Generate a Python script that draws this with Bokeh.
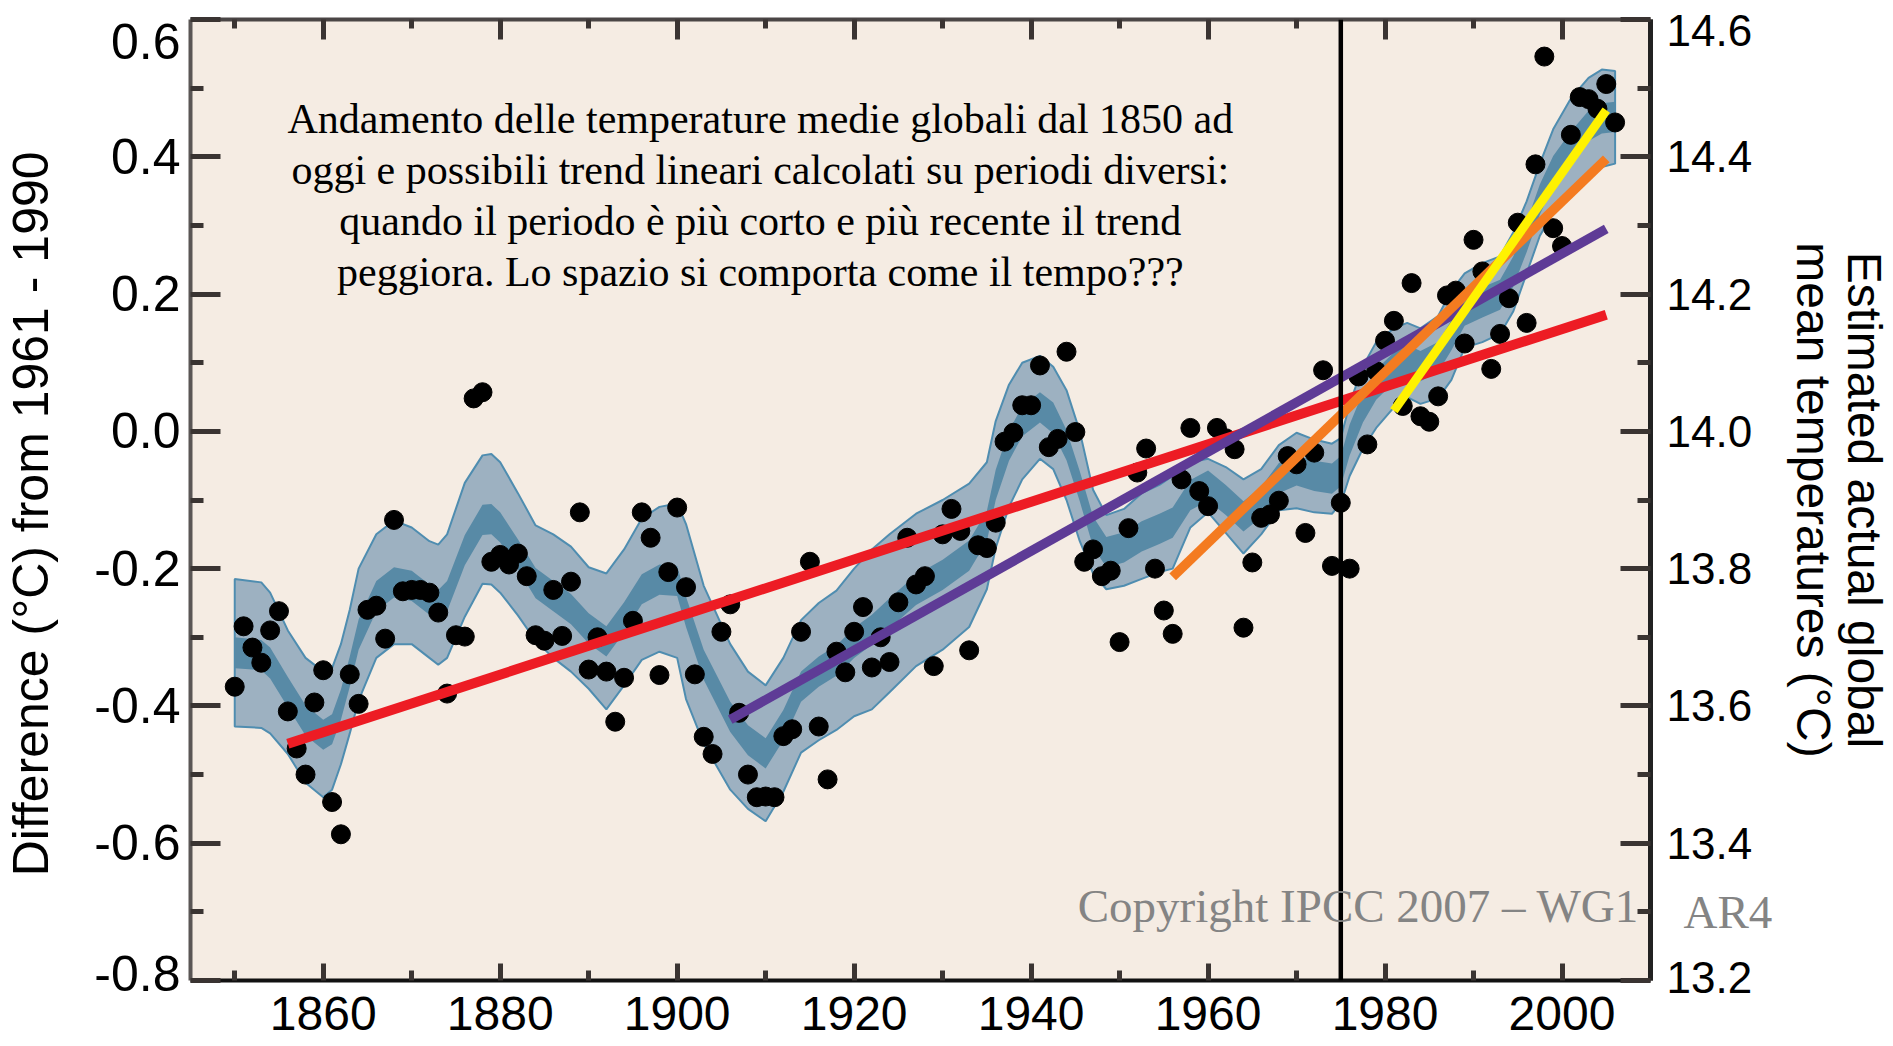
import math
from bokeh.plotting import figure
from bokeh.models import (Range1d, LinearAxis, Span, Label, FixedTicker,
                          PrintfTickFormatter)
from bokeh.embed import file_html
from bokeh.resources import INLINE

# ---------------- data ----------------
years = list(range(1850, 2007))
anomaly = [
    -0.372, -0.284, -0.315, -0.337, -0.290, -0.262, -0.408, -0.462, -0.500, -0.395,
    -0.348, -0.540, -0.587, -0.354, -0.397, -0.260, -0.254, -0.302, -0.129, -0.233,
    -0.231, -0.231, -0.235, -0.264, -0.382, -0.297, -0.299, 0.048, 0.057, -0.190,
    -0.180, -0.194, -0.178, -0.211, -0.297, -0.305, -0.231, -0.298, -0.219, -0.118,
    -0.347, -0.300, -0.350, -0.423, -0.359, -0.276, -0.118, -0.155, -0.355, -0.205,
    -0.111, -0.227, -0.354, -0.445, -0.470, -0.292, -0.252, -0.410, -0.500, -0.533,
    -0.532, -0.533, -0.444, -0.434, -0.292, -0.190, -0.430, -0.507, -0.321, -0.351,
    -0.292, -0.256, -0.344, -0.300, -0.336, -0.249, -0.155, -0.223, -0.211, -0.342,
    -0.150, -0.113, -0.145, -0.319, -0.166, -0.170, -0.133, -0.015, -0.002, 0.038,
    0.038, 0.096, -0.023, -0.011, 0.116, -0.001, -0.190, -0.172, -0.211, -0.203,
    -0.307, -0.141, -0.060, -0.025, -0.200, -0.261, -0.295, -0.070, 0.005, -0.087,
    -0.109, 0.005, -0.010, -0.026, -0.286, -0.191, -0.126, -0.121, -0.101, -0.036,
    -0.048, -0.148, -0.031, 0.089, -0.196, -0.104, -0.200, 0.080, -0.019, 0.088,
    0.132, 0.161, 0.037, 0.216, 0.022, 0.014, 0.051, 0.198, 0.205, 0.128,
    0.279, 0.233, 0.091, 0.142, 0.194, 0.304, 0.158, 0.389, 0.546, 0.296,
    0.270, 0.432, 0.487, 0.484, 0.470, 0.506, 0.450,
]

band_year = [1850, 1853, 1854, 1856, 1858, 1860, 1861, 1862, 1863, 1864, 1866, 1868,
             1870, 1872, 1873, 1874, 1876, 1878, 1879, 1880, 1882, 1884, 1886, 1888,
             1890, 1892, 1894, 1896, 1898, 1900, 1901, 1903, 1906, 1908, 1910, 1912,
             1914, 1916, 1918, 1920, 1922, 1924, 1927, 1930, 1933, 1935, 1936, 1937.5,
             1939, 1941, 1942.5, 1944, 1945.5, 1947, 1948.5, 1950.5, 1952.5, 1954.5,
             1956, 1958, 1960, 1962, 1964, 1966, 1968, 1970, 1972, 1974, 1975, 1976,
             1977.5, 1979, 1981, 1982.5, 1984, 1986, 1987.5, 1989, 1991, 1993, 1994.5,
             1996, 1997.5, 1999, 2001, 2003, 2004.5, 2006]
band_outer_hi = [-0.215, -0.220, -0.235, -0.290, -0.330, -0.350, -0.345, -0.310, -0.260, -0.200,
                 -0.150, -0.130, -0.140, -0.160, -0.165, -0.150, -0.075, -0.035, -0.033, -0.045,
                 -0.090, -0.137, -0.150, -0.168, -0.198, -0.207, -0.172, -0.127, -0.110, -0.105,
                 -0.135, -0.225, -0.310, -0.350, -0.370, -0.330, -0.275, -0.250, -0.232, -0.200,
                 -0.172, -0.150, -0.120, -0.100, -0.076, -0.045, 0.015, 0.068, 0.100, 0.110,
                 0.094, 0.060, 0.000, -0.085, -0.122, -0.113, -0.090, -0.078, -0.065, -0.045,
                 -0.040, -0.052, -0.070, -0.055, -0.020, -0.002, -0.012, -0.018, -0.010, 0.040,
                 0.095, 0.130, 0.150, 0.158, 0.150, 0.168, 0.205, 0.230, 0.245, 0.255,
                 0.290, 0.335, 0.390, 0.440, 0.485, 0.515, 0.527, 0.525]
band_outer_lo = [-0.430, -0.432, -0.440, -0.470, -0.512, -0.533, -0.522, -0.485, -0.440, -0.392,
                 -0.330, -0.310, -0.310, -0.330, -0.340, -0.330, -0.270, -0.222, -0.223, -0.235,
                 -0.268, -0.305, -0.330, -0.350, -0.375, -0.405, -0.370, -0.333, -0.321, -0.330,
                 -0.390, -0.455, -0.522, -0.550, -0.568, -0.525, -0.468, -0.450, -0.435, -0.415,
                 -0.405, -0.380, -0.342, -0.318, -0.285, -0.230, -0.170, -0.110, -0.070, -0.040,
                 -0.055, -0.100, -0.160, -0.207, -0.230, -0.225, -0.215, -0.205, -0.200, -0.140,
                 -0.118, -0.148, -0.178, -0.150, -0.115, -0.112, -0.118, -0.120, -0.105, -0.065,
                 -0.025, 0.005, 0.035, 0.050, 0.040, 0.048, 0.075, 0.122, 0.130, 0.142,
                 0.175, 0.230, 0.285, 0.318, 0.345, 0.375, 0.385, 0.390]
band_inner_hi = [-0.300, -0.304, -0.315, -0.358, -0.399, -0.420, -0.412, -0.376, -0.328, -0.274,
                 -0.218, -0.198, -0.203, -0.223, -0.231, -0.218, -0.151, -0.107, -0.106, -0.118,
                 -0.157, -0.199, -0.218, -0.237, -0.265, -0.284, -0.249, -0.208, -0.194, -0.196,
                 -0.241, -0.318, -0.394, -0.428, -0.447, -0.406, -0.350, -0.328, -0.312, -0.286,
                 -0.267, -0.243, -0.209, -0.187, -0.159, -0.116, -0.056, 0.001, 0.037, 0.057,
                 0.042, 0.002, -0.058, -0.124, -0.154, -0.147, -0.131, -0.120, -0.111, -0.071,
                 -0.057, -0.078, -0.102, -0.081, -0.046, -0.035, -0.043, -0.047, -0.036, 0.010,
                 0.057, 0.090, 0.115, 0.126, 0.117, 0.130, 0.162, 0.198, 0.210, 0.221,
                 0.255, 0.305, 0.360, 0.401, 0.437, 0.467, 0.478, 0.480]
band_inner_lo = [-0.345, -0.348, -0.360, -0.402, -0.443, -0.464, -0.456, -0.420, -0.372, -0.318,
                 -0.262, -0.242, -0.247, -0.267, -0.275, -0.262, -0.195, -0.151, -0.150, -0.162,
                 -0.201, -0.243, -0.262, -0.281, -0.309, -0.328, -0.293, -0.252, -0.238, -0.240,
                 -0.285, -0.362, -0.438, -0.472, -0.491, -0.450, -0.394, -0.372, -0.356, -0.330,
                 -0.311, -0.287, -0.253, -0.231, -0.203, -0.160, -0.100, -0.043, -0.007, 0.013,
                 -0.003, -0.042, -0.102, -0.168, -0.198, -0.191, -0.175, -0.164, -0.155, -0.115,
                 -0.101, -0.122, -0.146, -0.125, -0.090, -0.079, -0.087, -0.091, -0.080, -0.035,
                 0.013, 0.046, 0.071, 0.082, 0.073, 0.086, 0.118, 0.154, 0.166, 0.177,
                 0.211, 0.261, 0.316, 0.357, 0.393, 0.423, 0.434, 0.436]

# linear trends (150, 100, 50, 25 years)
trend_start_year = [1856, 1906, 1956, 1981]
trend_end_year = [2005, 2005, 2005, 2005]
trend_start_val = [-0.455, -0.420, -0.212, 0.030]
trend_end_val = [0.170, 0.295, 0.397, 0.468]
trend_colors = ["#ED1C24", "#5E3B96", "#F47B20", "#FFF200"]
trend_widths = [10, 9.5, 9.5, 9]

reference_year = 1975

x_major = [1860, 1880, 1900, 1920, 1940, 1960, 1980, 2000]
x_minor = [1850, 1870, 1890, 1910, 1930, 1950, 1970, 1990, 2010]
y_major = [-0.8, -0.6, -0.4, -0.2, 0.0, 0.2, 0.4, 0.6]
y_minor = [-0.7, -0.5, -0.3, -0.1, 0.1, 0.3, 0.5]
abs_major = [13.2, 13.4, 13.6, 13.8, 14.0, 14.2, 14.4, 14.6]
abs_minor = [13.3, 13.5, 13.7, 13.9, 14.1, 14.3, 14.5]
copyright_tail_at = [13.3]

note_lines = [
    "Andamento delle temperature medie globali dal 1850 ad",
    "oggi e possibili trend lineari calcolati su periodi diversi:",
    "quando il periodo è più corto e più recente il trend",
    "peggiora. Lo spazio si comporta come il tempo???",
]
copyright_main = "Copyright IPCC 2007 \u2013 WG1"
copyright_tail = "AR4"
left_title = "Difference (°C) from 1961 - 1990"
right_title = "Estimated actual global\nmean temperatures (°C)"

# ---------------- style ----------------
BG = "#F5ECE3"
OUTER = "#9DB1C1"
INNER = "#588AA6"
EDGE = "#4F8DB0"
TICK = "#3A3432"
GREY_TEXT = "#848484"
NUM_FONT = "Liberation Sans"
SANS = "Liberation Sans"
SERIF = "Liberation Serif"

p = figure(width=1893, height=1046,
           x_range=Range1d(1845.0, 2010.0), y_range=Range1d(-0.8, 0.6),
           output_backend="svg", toolbar_location=None,
           min_border_left=189, min_border_right=241,
           min_border_top=19, min_border_bottom=66,
           background_fill_color=BG, border_fill_color="white",
           outline_line_color=None)
p.extra_y_ranges = {"abs": Range1d(13.2, 14.6)}
p.grid.visible = False

# band
p.patch(band_year + band_year[::-1], band_outer_hi + band_outer_lo[::-1],
        fill_color=OUTER, line_color=EDGE, line_width=2)
p.varea(x=band_year, y1=band_inner_lo, y2=band_inner_hi, fill_color=INNER)

# annual values
p.scatter(years, anomaly, size=19, color="black", marker="circle")

# trends
p.segment(x0=trend_start_year, y0=trend_start_val, x1=trend_end_year, y1=trend_end_val,
          line_color=trend_colors, line_width=trend_widths, line_cap="butt")

p.add_layout(Span(location=reference_year, dimension="height",
                  line_color="black", line_width=4.5))

def style_ticks(ax, major_len, minor_len, size):
    ax.major_tick_in = major_len
    ax.major_tick_out = 0
    ax.minor_tick_in = minor_len
    ax.minor_tick_out = 0
    ax.major_tick_line_width = 5
    ax.minor_tick_line_width = 5
    ax.major_tick_line_color = TICK
    ax.minor_tick_line_color = TICK
    ax.major_label_text_font = NUM_FONT
    ax.major_label_text_font_size = size
    ax.major_label_text_color = "black"

# bottom
xa = p.xaxis[0]
xa.ticker = FixedTicker(ticks=x_major, minor_ticks=x_minor)
style_ticks(xa, 17, 10, "48px")
xa.axis_line_width = 4
xa.axis_line_color = "#111111"
xa.major_label_standoff = 16

# left
ya = p.yaxis[0]
ya.ticker = FixedTicker(ticks=y_major, minor_ticks=y_minor)
ya.formatter = PrintfTickFormatter(format="%.1f")
style_ticks(ya, 30, 13, "50px")
ya.axis_line_width = 4
ya.axis_line_color = "#5A5655"
ya.major_label_standoff = 10
# end labels sit slightly inside the axis ends, as in the picture
ya.major_label_overrides = {0.6: "\n0.6", -0.8: "-0.8\n "}
ya.major_label_text_line_height = 0.24
ya.axis_label = left_title + "  "
ya.axis_label_text_font = SANS
ya.axis_label_text_font_style = "normal"
ya.axis_label_text_font_size = "50px"
ya.axis_label_text_color = "black"
ya.axis_label_standoff = 32

# top (ticks only)
ta = LinearAxis(ticker=FixedTicker(ticks=x_major, minor_ticks=x_minor))
style_ticks(ta, 20, 9, "1px")
ta.major_label_text_alpha = 0
ta.major_label_standoff = 0
ta.axis_line_width = 4
ta.axis_line_color = "#4A4545"
p.add_layout(ta, "above")

# right: temperature scale
ra = LinearAxis(y_range_name="abs",
                ticker=FixedTicker(ticks=abs_major, minor_ticks=abs_minor),
                formatter=PrintfTickFormatter(format="%.1f"))
style_ticks(ra, 30, 13, "44px")
ra.axis_line_width = 5
ra.axis_line_color = "#222222"
ra.major_label_standoff = 16
ra.major_label_overrides = {14.6: "\n14.6", 13.2: "13.2\n "}
ra.major_label_text_line_height = 0.11
p.add_layout(ra, "right")

# right, outer: end of the copyright line (pulled back next to the frame) + title
rb = LinearAxis(y_range_name="abs",
                ticker=FixedTicker(ticks=copyright_tail_at, minor_ticks=[]),
                major_label_overrides={13.3: copyright_tail})
rb.axis_line_color = None
rb.major_tick_line_color = None
rb.minor_tick_line_color = None
rb.major_tick_in = 0
rb.major_tick_out = 0
rb.minor_tick_in = 0
rb.minor_tick_out = 0
rb.major_label_text_font = SERIF
rb.major_label_text_font_size = "47px"
rb.major_label_text_color = GREY_TEXT
rb.major_label_standoff = -72
rb.axis_label = right_title
rb.axis_label_text_font = SANS
rb.axis_label_text_font_style = "normal"
rb.axis_label_text_font_size = "48px"
rb.axis_label_text_line_height = 0.95
rb.axis_label_text_color = "black"
rb.axis_label_standoff = 12
p.add_layout(rb, "right")

# texts
note_y = [0.4549, 0.3807, 0.3064, 0.2321]
for line, yy in zip(note_lines, note_y):
    p.add_layout(Label(x=1909.4, y=yy, text=line, text_align="center",
                       text_baseline="alphabetic", text_font=SERIF,
                       text_font_size="42px", text_color="black"))

p.add_layout(Label(x=1945.27, y=-0.6915, text=copyright_main, text_align="left",
                   text_baseline="alphabetic", text_font=SERIF,
                   text_font_size="47px", text_color=GREY_TEXT))

open("out.html", "w").write(file_html(p, INLINE))
